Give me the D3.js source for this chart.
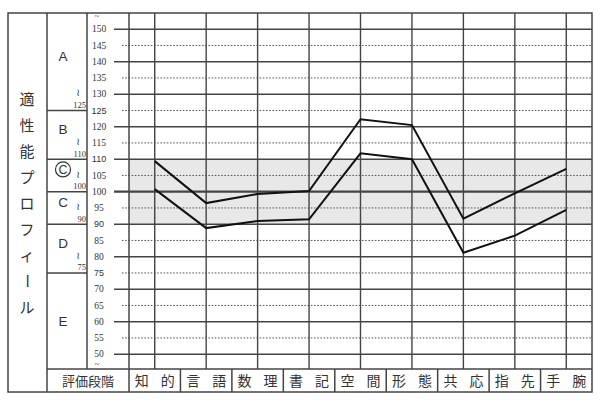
<!DOCTYPE html>
<html><head><meta charset="utf-8">
<script src="https://cdn.jsdelivr.net/npm/d3@7"></script>
<style>
html,body{margin:0;padding:0;background:#fff;}
svg{display:block;}
</style></head>
<body>
<svg id="c" width="600" height="403"></svg>
<script>
// ---- data ----
const categories = ["知的","言語","数理","書記","空間","形態","共応","指先","手腕"];
const upperValues = [109.4, 96.5, 99.3, 100.2, 122.3, 120.5, 91.7, 99.5, 107.0];
const lowerValues = [100.8, 88.8, 91.0, 91.5, 111.8, 110.0, 81.2, 86.5, 94.4];
const tickValues = d3.range(50, 151, 5);
const gradeLabels = ["A","B","C©","C","D","E"];
const gradeBounds = [125, 110, 100, 90, 75];
const titleText = "適性能プロフィール";
const rowLabel = "評価段階";
const bandRange = [90, 110];

// ---- layout ----
const svg = d3.select("#c");
const L = 8, T = 13, R = 592, B = 392;
const colTitleR = 47, colGradeR = 87, plotL = 129, rowTop = 369;
const ink = "#333";

const y = d3.scaleLinear().domain([50, 150]).range([354.2, 29.2]);
const x = d3.scaleBand().domain(categories).range([plotL, R]);
const cx = c => x(c) + x.bandwidth() / 2;

// shaded band
svg.append("rect")
  .attr("x", plotL).attr("y", y(bandRange[1]))
  .attr("width", R - plotL).attr("height", y(bandRange[0]) - y(bandRange[1]))
  .attr("fill", "#e8e8e8");

// horizontal grid
tickValues.forEach(v => {
  const solid = v % 10 === 0;
  svg.append("line")
    .attr("x1", solid ? 114 : 122).attr("x2", R)
    .attr("y1", y(v)).attr("y2", y(v))
    .attr("stroke", solid ? "#444" : "#555")
    .attr("stroke-width", v === 100 ? 2.2 : (solid ? 1.4 : 1))
    .attr("stroke-dasharray", solid ? null : "1.6,1.6");
});

// tick labels
const sansTicks = [125, 110, 90, 75];
svg.append("g").selectAll("text").data(tickValues).join("text")
  .attr("x", 99).attr("y", d => y(d) + 3.2)
  .attr("text-anchor", "middle")
  .attr("font-family", d => sansTicks.includes(d) ? "Liberation Sans, Arial, sans-serif" : "Liberation Serif, Times New Roman, serif")
  .attr("font-size", d => sansTicks.includes(d) ? 9 : 9.5)
  .attr("fill", ink)
  .text(d => d);
// tilde marks above/below scale
svg.append("text").attr("x", 97).attr("y", 19).attr("text-anchor","middle")
  .attr("font-size", 9).attr("fill", ink).attr("font-family","Liberation Serif, serif").text("~");
svg.append("text").attr("x", 97).attr("y", 367).attr("text-anchor","middle")
  .attr("font-size", 9).attr("fill", ink).attr("font-family","Liberation Serif, serif").text("~");

// vertical lines in plot (category centers)
categories.forEach(c => {
  svg.append("line").attr("x1", cx(c)).attr("x2", cx(c)).attr("y1", T).attr("y2", rowTop)
    .attr("stroke", "#444").attr("stroke-width", 1.4);
});

// data lines
const line = d3.line().x((d, i) => cx(categories[i])).y(d => y(d));
[upperValues, lowerValues].forEach(vals => {
  svg.append("path").attr("d", line(vals))
    .attr("fill", "none").attr("stroke", "#111").attr("stroke-width", 2)
    .attr("stroke-linejoin", "miter");
});

// structural lines
const frame = svg.append("g").attr("stroke", "#444").attr("stroke-width", 1.5).attr("fill", "none");
frame.append("rect").attr("x", L).attr("y", T).attr("width", R - L).attr("height", B - T);
frame.append("line").attr("x1", colTitleR).attr("x2", colTitleR).attr("y1", T).attr("y2", B);
frame.append("line").attr("x1", colGradeR).attr("x2", colGradeR).attr("y1", T).attr("y2", rowTop);
frame.append("line").attr("x1", plotL).attr("x2", plotL).attr("y1", T).attr("y2", B);
frame.append("line").attr("x1", colTitleR).attr("x2", R).attr("y1", rowTop).attr("y2", rowTop);
categories.forEach((c, i) => {
  if (i > 0) frame.append("line").attr("x1", x(c)).attr("x2", x(c)).attr("y1", rowTop).attr("y2", B);
});
gradeBounds.forEach(v => {
  frame.append("line").attr("x1", colTitleR).attr("x2", colGradeR).attr("y1", y(v)).attr("y2", y(v));
});

// grade labels
const gradeEdges = [T, ...gradeBounds.map(v => y(v)), rowTop];
gradeLabels.forEach((g, i) => {
  const top = gradeEdges[i], bot = gradeEdges[i + 1];
  const my = (top + bot) / 2 - (i < 5 ? 6 : 0);
  const gx = 63;
  if (g === "C©") {
    svg.append("circle").attr("cx", gx).attr("cy", my).attr("r", 7.5)
      .attr("fill", "none").attr("stroke", ink).attr("stroke-width", 1.2);
    svg.append("text").attr("x", gx).attr("y", my + 4.5).attr("text-anchor", "middle")
      .attr("font-family", "Liberation Sans, Arial, sans-serif").attr("font-size", 12.5)
      .attr("fill", ink).text("C");
  } else {
    svg.append("text").attr("x", gx).attr("y", my + 5).attr("text-anchor", "middle")
      .attr("font-family", "Liberation Sans, Arial, sans-serif").attr("font-size", 13.5)
      .attr("fill", ink).text(g);
  }
});
// small lower-bound annotations
gradeBounds.forEach(v => {
  const by = y(v);
  svg.append("text").attr("x", 78).attr("y", by - 14).attr("text-anchor", "middle")
    .attr("font-family", "DejaVu Sans, sans-serif").attr("font-size", 10).attr("fill", ink).text("≀");
  svg.append("text").attr("x", 86).attr("y", by - 2.5).attr("text-anchor", "end")
    .attr("font-family", "Liberation Serif, serif").attr("font-size", 8.5).attr("fill", ink).text(v);
});

// vertical title
const chars = Array.from(titleText);
chars.forEach((ch, i) => {
  const ty = 99 + i * 26;
  const t = svg.append("text").attr("x", 27).attr("y", ty + 5.5).attr("text-anchor", "middle")
    .attr("font-family", "Noto Sans CJK JP, sans-serif").attr("font-size", 15)
    .attr("fill", ink).text(ch);
  if (ch === "ー") t.attr("transform", `rotate(90,27,${ty})`).attr("y", ty + 5.5);
});

// bottom row labels
svg.append("text").attr("x", (colTitleR + plotL) / 2).attr("y", 385.5).attr("text-anchor", "middle")
  .attr("font-family", "Noto Sans CJK JP, sans-serif").attr("font-size", 13)
  .attr("fill", ink).text(rowLabel);
categories.forEach(c => {
  const chs = Array.from(c);
  chs.forEach((ch, j) => {
    svg.append("text").attr("x", cx(c) + (j === 0 ? -13 : 13)).attr("y", 385.5)
      .attr("text-anchor", "middle")
      .attr("font-family", "Noto Sans CJK JP, sans-serif").attr("font-size", 14)
      .attr("fill", ink).text(ch);
  });
});
</script>
</body></html>
